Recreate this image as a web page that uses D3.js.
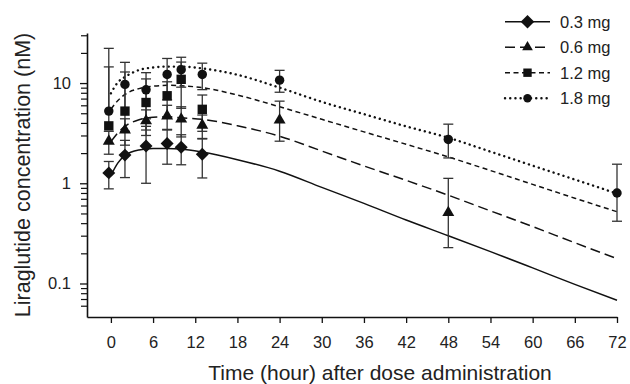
<!DOCTYPE html>
<html>
<head>
<meta charset="utf-8">
<script src="https://cdn.jsdelivr.net/npm/d3@7"></script>
<style>
  body { margin: 0; background: #fff; }
  svg { display: block; }
  text { font-family: "Liberation Sans", Arial, sans-serif; fill: #222; }
</style>
</head>
<body>
<svg id="chart" width="630" height="384"></svg>
<script>
// doses shown in the legend
const doses = ['0.3 mg', '0.6 mg', '1.2 mg', '1.8 mg'];

// sampling times (h) of the observed means
const obsTimes = [-0.3, 2, 5, 8, 10, 13, 24, 48, 72];

// observed means (nM), null where no point is drawn
const obs03 = [1.27, 1.91, 2.36, 2.50, 2.29, 1.95, null, null, null];
const obs06 = [2.63, 3.39, 4.2, 4.7, 4.37, 3.8, 4.27, 0.51, null];
const obs12 = [3.74, 5.25, 6.4, 7.47, 10.9, 5.47, null, null, null];
const obs18 = [5.25, 9.7, 8.56, 12.2, 13.6, 12.2, 10.7, 2.74, 0.80];

// error bar ends (upper / lower), null where not drawn
const hi03 = [1.65, 2.68, 3.7, 3.45, 3.05, 2.77, null, null, null];
const lo03 = [0.88, 1.14, 1.0, 1.55, 1.53, 1.13, null, null, null];
const hi06 = [3.3, 4.4, 5.4, 6.0, 5.8, 4.8, 6.6, 1.12, null];
const lo06 = [1.95, 2.4, 3.0, 3.4, 2.9, 2.8, 2.63, 0.228, null];
const hi12 = [14.5, 12.9, 11.0, 10.3, 16.2, 7.6, null, null, null];
const lo12 = [null, null, 3.4, 4.6, 5.6, 3.3, null, null, null];
const hi18 = [22.2, 16.1, 12.7, 17.6, 18.1, 15.8, 13.4, 3.89, 1.55];
const lo18 = [null, 3.3, 4.4, 6.8, 9.1, 8.6, 8.1, 1.79, 0.418];

// model predicted profiles
const fitTimes = [0, 1, 2, 4, 6, 8, 10, 13, 18, 24, 30, 36, 42, 48, 54, 60, 66, 72];
const fit03 = [1.2, 1.6, 1.9, 2.15, 2.22, 2.23, 2.2, 2.05, 1.72, 1.32, 0.91, 0.63, 0.43, 0.30, 0.208, 0.143, 0.098, 0.068];
const fit06 = [2.6, 3.2, 3.7, 4.3, 4.55, 4.6, 4.5, 4.35, 3.75, 2.95, 2.1, 1.49, 1.07, 0.76, 0.53, 0.37, 0.255, 0.177];
const fit12 = [5.5, 6.7, 7.7, 8.8, 9.3, 9.5, 9.4, 9.0, 7.6, 5.8, 4.35, 3.26, 2.45, 1.83, 1.34, 0.975, 0.71, 0.52];
const fit18 = [7.9, 10.2, 11.5, 13.5, 14.3, 14.6, 14.6, 14.0, 12.1, 9.0, 6.5, 4.9, 3.7, 2.85, 2.07, 1.5, 1.09, 0.79];

// axis ticks
const xTicks = [0, 6, 12, 18, 24, 30, 36, 42, 48, 54, 60, 66, 72];
const yMajor = [0.1, 1, 10];
const yMinor = [0.06, 0.07, 0.08, 0.09, 0.2, 0.3, 0.4, 0.5, 0.6, 0.7, 0.8, 0.9,
                2, 3, 4, 5, 6, 7, 8, 9, 20, 30];

const series = [
    { name: doses[0], obs: obs03, hi: hi03, lo: lo03, fit: fit03, dash: null, width: 1.5, sym: 'diamond' },
    { name: doses[1], obs: obs06, hi: hi06, lo: lo06, fit: fit06, dash: '10,5', width: 1.5, sym: 'triangle' },
    { name: doses[2], obs: obs12, hi: hi12, lo: lo12, fit: fit12, dash: '5,3.5', width: 1.5, sym: 'square' },
    { name: doses[3], obs: obs18, hi: hi18, lo: lo18, fit: fit18, dash: '0.1,5.1', width: 2.4, sym: 'circle' }
];

const svg = d3.select('#chart');
const x = d3.scaleLinear().domain([-3.4, 72]).range([87, 617]);
const y = d3.scaleLog().domain([0.0463, 31.6]).range([317, 33]);

function symbolPath(kind, scale) {
    const s = scale || 1;
    if (kind === 'diamond') return d3.symbol().type(d3.symbolSquare).size(84 * s)();
    if (kind === 'triangle') return d3.symbol().type(d3.symbolTriangle).size(62 * s)();
    if (kind === 'square') return d3.symbol().type(d3.symbolSquare).size(88 * s)();
    return d3.symbol().type(d3.symbolCircle).size(70 * s)();
}

// x axis
const gx = svg.append('g')
    .attr('transform', 'translate(0,317)')
    .call(d3.axisBottom(x).tickValues(xTicks).tickSize(6).tickPadding(13).tickSizeOuter(0));
gx.select('.domain').attr('stroke', '#111').attr('stroke-width', 1.6);
gx.selectAll('.tick line').attr('stroke', '#111').attr('stroke-width', 1.3);
gx.selectAll('text').attr('font-size', '16.5px').attr('font-family', '"Liberation Sans", Arial, sans-serif').attr('fill', '#222');

// y axis, minor ticks
const gyMinor = svg.append('g')
    .attr('transform', 'translate(87,0)')
    .call(d3.axisLeft(y).tickValues(yMinor).tickSize(6).tickFormat(''));
gyMinor.select('.domain').remove();
gyMinor.selectAll('.tick line').attr('stroke', '#111').attr('stroke-width', 1.2);

// y axis, labelled ticks
const gy = svg.append('g')
    .attr('transform', 'translate(87,0)')
    .call(d3.axisLeft(y).tickValues(yMajor).tickSize(7).tickPadding(9).tickSizeOuter(0)
        .tickFormat(d => String(d)));
gy.select('.domain').attr('stroke', '#111').attr('stroke-width', 1.6);
gy.selectAll('.tick line').attr('stroke', '#111').attr('stroke-width', 1.3);
gy.selectAll('text').attr('font-size', '16.5px').attr('font-family', '"Liberation Sans", Arial, sans-serif').attr('fill', '#222');

// axis titles
svg.append('text')
    .attr('x', 380).attr('y', 379.5)
    .attr('text-anchor', 'middle')
    .attr('font-size', '21px')
    .text('Time (hour) after dose administration');

svg.append('text')
    .attr('transform', 'translate(29.5,175) rotate(-90)')
    .attr('text-anchor', 'middle')
    .attr('font-size', '21.5px')
    .text('Liraglutide concentration (nM)');

// model curves
const line = d3.line()
    .x(d => x(d[0]))
    .y(d => y(d[1]))
    .curve(d3.curveMonotoneX);

svg.append('g')
    .selectAll('path')
    .data(series)
    .join('path')
    .attr('fill', 'none')
    .attr('stroke', '#111')
    .attr('stroke-width', d => d.width)
    .attr('stroke-dasharray', d => d.dash)
    .attr('stroke-linecap', d => d.sym === 'circle' ? 'round' : 'butt')
    .attr('d', d => line(fitTimes.map((t, i) => [t, d.fit[i]])));

// error bars
const bars = [];
series.forEach(s => {
    obsTimes.forEach((t, i) => {
        if (s.obs[i] == null) return;
        const top = s.hi[i] != null ? s.hi[i] : s.obs[i];
        const bot = s.lo[i] != null ? s.lo[i] : s.obs[i];
        bars.push({ t: t, top: top, bot: bot, hasTop: s.hi[i] != null, hasBot: s.lo[i] != null });
    });
});

const gErr = svg.append('g').attr('stroke', '#333').attr('stroke-width', 1.3);
gErr.selectAll('line.v')
    .data(bars)
    .join('line')
    .attr('class', 'v')
    .attr('x1', d => x(d.t)).attr('x2', d => x(d.t))
    .attr('y1', d => y(d.top)).attr('y2', d => y(d.bot));
gErr.selectAll('line.capT')
    .data(bars.filter(d => d.hasTop))
    .join('line')
    .attr('class', 'capT')
    .attr('x1', d => x(d.t) - 5).attr('x2', d => x(d.t) + 5)
    .attr('y1', d => y(d.top)).attr('y2', d => y(d.top));
gErr.selectAll('line.capB')
    .data(bars.filter(d => d.hasBot))
    .join('line')
    .attr('class', 'capB')
    .attr('x1', d => x(d.t) - 5).attr('x2', d => x(d.t) + 5)
    .attr('y1', d => y(d.bot)).attr('y2', d => y(d.bot));

// markers
series.forEach(s => {
    svg.append('g')
        .selectAll('path')
        .data(obsTimes.map((t, i) => [t, s.obs[i]]).filter(d => d[1] != null))
        .join('path')
        .attr('fill', '#111')
        .attr('d', symbolPath(s.sym))
        .attr('transform', d => `translate(${x(d[0])},${y(d[1])})` + (s.sym === 'diamond' ? ' rotate(45)' : ''));
});

// legend
const legend = svg.append('g')
    .selectAll('g')
    .data(series)
    .join('g')
    .attr('transform', (d, i) => `translate(505,${21.7 + i * 25.5})`);

legend.append('line')
    .attr('x1', 0).attr('x2', 45)
    .attr('stroke', '#111')
    .attr('stroke-width', d => d.width)
    .attr('stroke-dasharray', d => d.dash)
    .attr('stroke-linecap', d => d.sym === 'circle' ? 'round' : 'butt');

legend.append('path')
    .attr('fill', '#111')
    .attr('d', d => symbolPath(d.sym, d.sym === 'diamond' ? 1.1 : 0.8))
    .attr('transform', d => 'translate(22.5,0)' + (d.sym === 'diamond' ? ' rotate(45)' : ''));

legend.append('text')
    .attr('x', 55).attr('y', 5.8)
    .attr('font-size', '16.5px')
    .text(d => d.name);
</script>
</body>
</html>
